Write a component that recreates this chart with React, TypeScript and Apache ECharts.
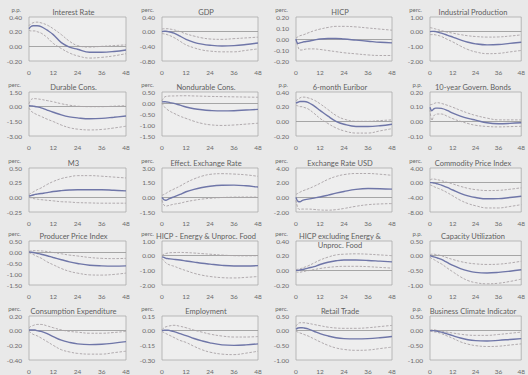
import React, { useEffect, useRef } from "react";
import * as echarts from "echarts";

const MONTHS = [0, 1, 2, 3, 4, 6, 9, 12, 16, 20, 24, 30, 36, 42, 48];
const X_TICKS = [0, 12, 24, 36, 48];

const TITLES = [
  "Interest Rate", "GDP", "HICP", "Industrial Production",
  "Durable Cons.", "Nondurable Cons.", "6-month Euribor", "10-year Govern. Bonds",
  "M3", "Effect. Exchange Rate", "Exchange Rate USD", "Commodity Price Index",
  "Producer Price Index", "HICP - Energy & Unproc. Food", "HICP excluding Energy &\nUnproc. Food", "Capacity Utilization",
  "Consumption Expenditure", "Employment", "Retail Trade", "Business Climate Indicator",
];

const UNITS = [
  "p.p.", "perc.", "perc.", "perc.",
  "perc.", "perc.", "p.p.", "p.p.",
  "perc.", "perc.", "perc.", "perc.",
  "perc.", "perc.", "perc.", "p.p.",
  "perc.", "perc.", "perc.", "p.p.",
];

const Y_MIN = [-0.2, -0.8, -0.2, -2, -3, -1.5, -0.2, -0.1, -0.25, -1.5, -2, -8, -1.5, -2, -0.2, -1, -0.4, -0.3, -1, -1];
const Y_MAX = [0.4, 0.4, 0.2, 1, 1.5, 0.5, 0.4, 0.2, 0.5, 3, 4, 4, 0.5, 1, 0.4, 0.5, 0.2, 0.15, 0.5, 0.5];
const Y_STEP = [0.2, 0.4, 0.1, 1, 1.5, 0.5, 0.2, 0.1, 0.25, 1.5, 2, 4, 0.5, 1, 0.2, 0.5, 0.2, 0.15, 0.5, 0.5];

const MID = [
  [0.24, 0.27, 0.28, 0.28, 0.28, 0.27, 0.22, 0.16, 0.05, -0.01, -0.04, -0.08, -0.08, -0.07, -0.05],
  [0.0, 0.01, 0.01, 0.0, -0.01, -0.04, -0.12, -0.21, -0.29, -0.34, -0.37, -0.39, -0.38, -0.35, -0.31],
  [0.0, -0.04, -0.035, -0.03, -0.025, -0.02, -0.01, 0.0, 0.005, 0.005, 0.0, -0.01, -0.02, -0.03, -0.035],
  [0.0, 0.02, 0.02, 0.0, -0.03, -0.1, -0.23, -0.37, -0.56, -0.72, -0.83, -0.9, -0.88, -0.8, -0.72],
  [0.1, 0.08, 0.05, 0.02, -0.02, -0.12, -0.35, -0.57, -0.84, -1.04, -1.15, -1.24, -1.2, -1.08, -0.95],
  [0.05, 0.06, 0.05, 0.04, 0.02, -0.02, -0.1, -0.18, -0.26, -0.31, -0.34, -0.36, -0.35, -0.32, -0.29],
  [0.25, 0.26, 0.27, 0.27, 0.27, 0.26, 0.21, 0.15, 0.07, 0.0, -0.04, -0.07, -0.07, -0.06, -0.04],
  [0.096, 0.072, 0.085, 0.09, 0.09, 0.088, 0.075, 0.056, 0.036, 0.02, 0.008, -0.01, -0.016, -0.014, -0.01],
  [0.02, 0.03, 0.04, 0.05, 0.055, 0.065, 0.08, 0.1, 0.115, 0.125, 0.13, 0.13, 0.13, 0.12, 0.11],
  [0.0, -0.25, -0.3, -0.2, -0.1, 0.05, 0.3, 0.57, 0.82, 1.0, 1.13, 1.23, 1.25, 1.18, 1.05],
  [0.0, -0.55, -0.6, -0.45, -0.35, -0.25, -0.1, 0.05, 0.3, 0.57, 0.8, 1.08, 1.2, 1.18, 1.12],
  [0.0, 0.0, -0.1, -0.2, -0.35, -0.65, -1.3, -2.0, -2.9, -3.6, -4.05, -4.4, -4.35, -4.05, -3.7],
  [0.0, -0.01, -0.02, -0.04, -0.06, -0.1, -0.17, -0.25, -0.35, -0.45, -0.52, -0.6, -0.63, -0.64, -0.63],
  [-0.08, -0.12, -0.18, -0.2, -0.22, -0.25, -0.3, -0.36, -0.44, -0.52, -0.58, -0.66, -0.7, -0.7, -0.68],
  [0.0, 0.0, 0.005, 0.01, 0.015, 0.03, 0.05, 0.08, 0.11, 0.13, 0.14, 0.14, 0.135, 0.125, 0.115],
  [0.0, -0.02, -0.04, -0.06, -0.08, -0.13, -0.23, -0.33, -0.44, -0.52, -0.57, -0.59, -0.57, -0.53, -0.48],
  [0.01, 0.01, 0.01, 0.01, 0.0, -0.01, -0.04, -0.08, -0.13, -0.16, -0.18, -0.19, -0.185, -0.17, -0.15],
  [0.0, 0.005, 0.005, 0.005, 0.0, -0.01, -0.03, -0.05, -0.08, -0.105, -0.125, -0.145, -0.15, -0.145, -0.135],
  [0.05, 0.09, 0.1, 0.1, 0.09, 0.06, -0.02, -0.1, -0.18, -0.24, -0.27, -0.28, -0.27, -0.24, -0.2],
  [0.0, 0.0, 0.0, -0.01, -0.02, -0.05, -0.11, -0.17, -0.25, -0.31, -0.34, -0.35, -0.33, -0.3, -0.27],
];

const UPPER = [
  [0.28, 0.31, 0.32, 0.33, 0.33, 0.32, 0.29, 0.24, 0.16, 0.07, 0.01, -0.01, 0.0, 0.01, 0.02],
  [0.07, 0.08, 0.08, 0.08, 0.07, 0.05, 0.0, -0.06, -0.12, -0.17, -0.2, -0.21, -0.19, -0.17, -0.15],
  [0.01, 0.02, 0.03, 0.035, 0.04, 0.055, 0.075, 0.09, 0.105, 0.115, 0.115, 0.11, 0.1, 0.09, 0.08],
  [0.28, 0.25, 0.22, 0.18, 0.14, 0.07, -0.03, -0.1, -0.2, -0.28, -0.33, -0.37, -0.36, -0.3, -0.22],
  [0.3, 0.7, 0.82, 0.82, 0.8, 0.74, 0.62, 0.5, 0.3, 0.15, 0.05, 0.0, 0.0, 0.05, 0.1],
  [0.1, 0.25, 0.3, 0.31, 0.32, 0.32, 0.33, 0.33, 0.32, 0.31, 0.3, 0.29, 0.28, 0.27, 0.26],
  [0.28, 0.3, 0.32, 0.33, 0.33, 0.32, 0.29, 0.24, 0.16, 0.08, 0.03, 0.0, 0.0, 0.01, 0.02],
  [0.114, 0.115, 0.12, 0.126, 0.127, 0.122, 0.11, 0.096, 0.075, 0.056, 0.04, 0.022, 0.01, 0.01, 0.01],
  [0.05, 0.07, 0.09, 0.11, 0.13, 0.16, 0.22, 0.27, 0.32, 0.35, 0.37, 0.37, 0.36, 0.345, 0.33],
  [0.2, 0.3, 0.4, 0.55, 0.65, 0.85, 1.15, 1.5, 1.88, 2.17, 2.35, 2.42, 2.38, 2.3, 2.15],
  [0.4, 0.55, 0.7, 0.85, 0.95, 1.15, 1.5, 1.9, 2.45, 2.85, 3.1, 3.25, 3.25, 3.15, 3.0],
  [0.8, 0.95, 1.0, 0.9, 0.8, 0.55, 0.1, -0.35, -1.0, -1.55, -1.9, -2.15, -2.1, -1.8, -1.4],
  [0.03, 0.05, 0.06, 0.06, 0.06, 0.05, 0.02, -0.02, -0.08, -0.14, -0.18, -0.25, -0.29, -0.3, -0.29],
  [0.02, 0.1, 0.15, 0.18, 0.2, 0.21, 0.22, 0.21, 0.18, 0.14, 0.1, 0.04, 0.0, -0.01, 0.0],
  [0.01, 0.015, 0.02, 0.03, 0.04, 0.06, 0.1, 0.14, 0.18, 0.21, 0.22, 0.225, 0.22, 0.21, 0.2],
  [0.03, 0.05, 0.05, 0.04, 0.03, 0.0, -0.07, -0.13, -0.2, -0.25, -0.28, -0.3, -0.29, -0.25, -0.19],
  [0.04, 0.06, 0.07, 0.08, 0.085, 0.085, 0.065, 0.04, 0.01, -0.01, -0.02, -0.035, -0.035, -0.025, -0.01],
  [0.01, 0.03, 0.04, 0.045, 0.05, 0.055, 0.045, 0.03, 0.005, -0.015, -0.035, -0.055, -0.065, -0.065, -0.06],
  [0.15, 0.24, 0.27, 0.27, 0.27, 0.25, 0.21, 0.17, 0.12, 0.09, 0.08, 0.08, 0.1, 0.14, 0.18],
  [0.02, 0.03, 0.03, 0.02, 0.01, -0.01, -0.05, -0.08, -0.12, -0.15, -0.16, -0.16, -0.13, -0.09, -0.05],
];

const LOWER = [
  [0.22, 0.21, 0.21, 0.21, 0.2, 0.18, 0.12, 0.04, -0.03, -0.09, -0.13, -0.16, -0.15, -0.13, -0.1],
  [-0.05, -0.06, -0.07, -0.09, -0.11, -0.16, -0.26, -0.36, -0.44, -0.5, -0.53, -0.55, -0.55, -0.51, -0.47],
  [0.0, -0.07, -0.1, -0.1, -0.095, -0.09, -0.09, -0.095, -0.105, -0.115, -0.125, -0.135, -0.145, -0.15, -0.15],
  [-0.2, -0.2, -0.2, -0.22, -0.25, -0.33, -0.52, -0.7, -0.98, -1.22, -1.38, -1.5, -1.48, -1.38, -1.28],
  [-0.12, -0.45, -0.6, -0.72, -0.82, -1.0, -1.28, -1.52, -1.88, -2.15, -2.3, -2.38, -2.33, -2.18, -2.0],
  [0.0, -0.15, -0.25, -0.32, -0.38, -0.47, -0.6, -0.7, -0.83, -0.93, -0.99, -1.02, -1.0, -0.96, -0.92],
  [0.22, 0.21, 0.2, 0.2, 0.19, 0.17, 0.11, 0.04, -0.03, -0.09, -0.13, -0.16, -0.16, -0.13, -0.1],
  [0.08, 0.005, 0.038, 0.047, 0.05, 0.05, 0.035, 0.018, 0.0, -0.015, -0.027, -0.035, -0.038, -0.036, -0.034],
  [0.0, -0.01, -0.02, -0.025, -0.03, -0.04, -0.05, -0.06, -0.075, -0.08, -0.09, -0.095, -0.1, -0.1, -0.1],
  [-0.3, -0.8, -0.9, -0.85, -0.8, -0.7, -0.6, -0.45, -0.3, -0.18, -0.1, -0.02, 0.02, 0.03, 0.02],
  [-0.4, -1.5, -1.65, -1.6, -1.6, -1.6, -1.65, -1.72, -1.75, -1.68, -1.52, -1.22, -1.0, -0.9, -0.85],
  [-0.6, -0.8, -1.05, -1.3, -1.5, -1.9, -2.7, -3.6, -4.8, -5.7, -6.3, -6.9, -6.9, -6.5, -6.0],
  [-0.03, -0.07, -0.11, -0.15, -0.2, -0.28, -0.45, -0.58, -0.75, -0.88, -0.96, -1.04, -1.05, -1.02, -0.96],
  [-0.2, -0.35, -0.5, -0.58, -0.64, -0.72, -0.88, -1.02, -1.2, -1.33, -1.42, -1.5, -1.52, -1.48, -1.42],
  [-0.02, -0.025, -0.025, -0.02, -0.015, -0.005, 0.01, 0.025, 0.04, 0.05, 0.055, 0.055, 0.05, 0.04, 0.03],
  [-0.05, -0.1, -0.13, -0.17, -0.21, -0.28, -0.42, -0.55, -0.72, -0.85, -0.92, -0.96, -0.94, -0.88, -0.8],
  [-0.01, -0.03, -0.05, -0.06, -0.07, -0.1, -0.15, -0.2, -0.26, -0.29, -0.31, -0.32, -0.32, -0.3, -0.28],
  [-0.01, -0.02, -0.03, -0.04, -0.05, -0.07, -0.1, -0.12, -0.16, -0.195, -0.22, -0.24, -0.245, -0.23, -0.21],
  [-0.02, -0.05, -0.08, -0.1, -0.13, -0.18, -0.28, -0.38, -0.5, -0.59, -0.64, -0.67, -0.66, -0.61, -0.56],
  [-0.02, -0.03, -0.04, -0.05, -0.06, -0.1, -0.18, -0.26, -0.38, -0.46, -0.51, -0.54, -0.53, -0.49, -0.45],
];

const COL_LEFT = [29, 162, 296, 430];
const COL_WIDTH = [97, 96, 96, 94];
const ROW_TOP = [17, 92, 168, 241, 316];
const PLOT_H = 44;

const FONT = "Lato, 'Open Sans', sans-serif";
const TEXT_COLOR = "#6a6a6a";
const MID_COLOR = "#6f76a8";
const BAND_LINE = "#a9a3a6";

function buildOption() {
  const grid: any[] = [];
  const xAxis: any[] = [];
  const yAxis: any[] = [];
  const series: any[] = [];
  const graphic: any[] = [];

  for (let i = 0; i < 20; i++) {
    const r = Math.floor(i / 4);
    const c = i % 4;
    const left = COL_LEFT[c];
    const top = ROW_TOP[r];
    const w = COL_WIDTH[c];
    grid.push({
      left, top, width: w, height: PLOT_H,
      show: true, borderColor: "#aaaaaa", borderWidth: 0.8, backgroundColor: "#eeeeee",
    });
    xAxis.push({
      type: "value", gridIndex: i, min: 0, max: 48, interval: 12,
      axisLine: { show: false }, axisTick: { show: false }, splitLine: { show: false },
      axisLabel: {
        margin: 8, fontSize: 6.5, color: TEXT_COLOR, fontFamily: FONT,
        customValues: X_TICKS,
      },
    });
    yAxis.push({
      type: "value", gridIndex: i, min: Y_MIN[i], max: Y_MAX[i], interval: Y_STEP[i],
      axisLine: { show: false }, axisTick: { show: false }, splitLine: { show: false },
      axisLabel: {
        margin: 7, fontSize: 6.5, color: TEXT_COLOR, fontFamily: FONT,
        formatter: (v: number) => v.toFixed(2),
      },
    });
    series.push({
      type: "line", xAxisIndex: i, yAxisIndex: i, data: MONTHS.map((m, k) => [m, UPPER[i][k]]),
      smooth: 0.4, symbol: "none", z: 3,
      lineStyle: { color: BAND_LINE, width: 0.9, type: [2.5, 1.5] },
    });
    series.push({
      type: "line", xAxisIndex: i, yAxisIndex: i, data: MONTHS.map((m, k) => [m, LOWER[i][k]]),
      smooth: 0.4, symbol: "none", z: 3,
      lineStyle: { color: BAND_LINE, width: 0.9, type: [2.5, 1.5] },
    });
    series.push({
      type: "line", xAxisIndex: i, yAxisIndex: i, data: MONTHS.map((m, k) => [m, MID[i][k]]),
      smooth: 0.4, symbol: "none", z: 4,
      lineStyle: { color: MID_COLOR, width: 1.4 },
      markLine: {
        silent: true, symbol: "none", label: { show: false }, z: 2,
        lineStyle: { color: "#9d9d9d", type: "solid", width: 0.9 },
        data: [{ yAxis: 0 }],
      },
    });

    const twoLine = TITLES[i].includes("\n");
    graphic.push({
      type: "text", x: left + w / 2 - 4, y: twoLine ? top - 9.5 : top - 5,
      style: {
        text: TITLES[i], fill: "#5e5e5e", fontSize: 7.5, fontFamily: FONT,
        textAlign: "center", textVerticalAlign: twoLine ? "top" : "middle", lineHeight: 9,
      },
    });
    graphic.push({
      type: "text", x: left - 8, y: top - 7.5,
      style: {
        text: UNITS[i], fill: TEXT_COLOR, fontSize: 6, fontFamily: FONT,
        textAlign: "right", textVerticalAlign: "middle",
      },
    });
  }

  return {
    animation: false,
    backgroundColor: "#e9e9e9",
    grid, xAxis, yAxis, series, graphic,
  };
}

export default function App() {
  const ref = useRef<HTMLDivElement>(null);
  useEffect(() => {
    if (!ref.current) return;
    const chart = echarts.init(ref.current, undefined, { renderer: "svg" });
    chart.setOption(buildOption() as any);
    return () => chart.dispose();
  }, []);
  return (
    <div
      ref={ref}
      style={{ position: "absolute", left: 0, top: 0, width: 528, height: 375, background: "#e9e9e9" }}
    />
  );
}
